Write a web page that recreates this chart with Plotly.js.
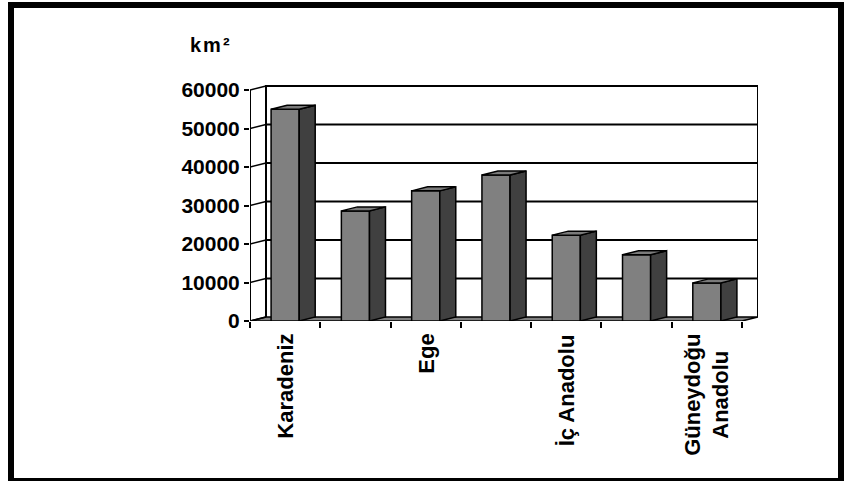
<!DOCTYPE html>
<html>
<head>
<meta charset="utf-8">
<script src="https://cdn.plot.ly/plotly-3.0.1.min.js"></script>
<style>
  html, body { margin: 0; padding: 0; background: #fff; }
  #wrap { position: relative; width: 846px; height: 481px; overflow: hidden; }
  #chart { position: absolute; left: 0; top: 0; width: 846px; height: 481px; }
  #frame { position: absolute; left: 8px; top: 2px; width: 824px; height: 470px;
           border: 6px solid #000; pointer-events: none; }
</style>
</head>
<body>
<div id="wrap">
  <div id="chart"></div>
  <div id="frame"></div>
</div>
<script>
// ---- data ----
const categories = ['Karadeniz', 'Marmara', 'Ege', 'Akdeniz', 'İç Anadolu', 'Doğu Anadolu', 'Güneydoğu Anadolu'];
const areaKm2 = [55000, 28600, 33800, 37900, 22300, 17200, 9900];
const xTickLabels = ['Karadeniz', '', 'Ege', '', 'İç Anadolu', '', 'Güneydoğu<br>Anadolu'];
const yTickValues = [0, 10000, 20000, 30000, 40000, 50000, 60000];
const yTickLabels = ['0', '10000', '20000', '30000', '40000', '50000', '60000'];
const unitLabel = 'km²';

// ---- geometry (styling) ----
const W = 846, H = 481;
const mL = 250, mT = 80, mB = 160;
const nCat = categories.length;
const catPx = 70.3;               // px per category
const yMaxTick = yTickValues[yTickValues.length - 1];
const pxPerY = 231 / yMaxTick;    // px per unit on y
const depthPx = 16, riseP = 4;    // 3-D depth offset in px
const dxU = depthPx / catPx;
const dyU = riseP / pxPerY;
const plotW = (nCat + dxU) * catPx;
const plotH = H - mT - mB;
const mR = W - mL - plotW;
const yTop = plotH / pxPerY;
const barW = 0.4;

const xs = categories.map((c, i) => i + 0.5);

// side and top faces of the bars
const sideX = [], sideY = [], topX = [], topY = [];
areaKm2.forEach((v, i) => {
  const xl = xs[i] - barW / 2, xr = xs[i] + barW / 2;
  sideX.push(xr, xr + dxU, xr + dxU, xr, xr, null);
  sideY.push(0, dyU, v + dyU, v, 0, null);
  topX.push(xl, xr, xr + dxU, xl + dxU, xl, null);
  topY.push(v, v, v + dyU, v + dyU, v, null);
});

const traces = [
  {
    type: 'bar', x: xs, y: areaKm2, width: barW,
    marker: { color: '#808080', line: { color: '#000', width: 1.5 } },
    hoverinfo: 'skip', showlegend: false
  },
  {
    type: 'scatter', mode: 'lines', x: sideX, y: sideY, fill: 'toself',
    fillcolor: '#404040', line: { color: '#000', width: 1.5 },
    hoverinfo: 'skip', showlegend: false
  },
  {
    type: 'scatter', mode: 'lines', x: topX, y: topY, fill: 'toself',
    fillcolor: '#7a7a7a', line: { color: '#000', width: 1.5 },
    hoverinfo: 'skip', showlegend: false
  }
];

// walls, floor and gridlines as shapes below the bars
const shapes = [];
const lineBlack = { color: '#000', width: 2 };
// floor
shapes.push({
  type: 'path', xref: 'x', yref: 'y', layer: 'below',
  path: `M 0 0 L ${nCat} 0 L ${nCat + dxU} ${dyU} L ${dxU} ${dyU} Z`,
  fillcolor: '#808080', line: { color: '#000', width: 1.5 }
});
// back wall outline (left, top, right)
shapes.push({
  type: 'path', xref: 'x', yref: 'y', layer: 'below',
  path: `M ${dxU} ${dyU} L ${dxU} ${yMaxTick + dyU} L ${nCat + dxU} ${yMaxTick + dyU} L ${nCat + dxU} ${dyU}`,
  line: lineBlack
});
// back wall gridlines and side-wall diagonals
yTickValues.forEach(v => {
  if (v > 0 && v < yMaxTick) {
    shapes.push({ type: 'line', xref: 'x', yref: 'y', layer: 'below',
      x0: dxU, x1: nCat + dxU, y0: v + dyU, y1: v + dyU, line: lineBlack });
  }
  shapes.push({ type: 'line', xref: 'x', yref: 'y', layer: 'below',
    x0: 0, x1: dxU, y0: v, y1: v + dyU, line: { color: '#000', width: 1.5 } });
});
// front value axis line
shapes.push({ type: 'line', xref: 'x', yref: 'y', layer: 'above',
  x0: 0, x1: 0, y0: 0, y1: yMaxTick, line: lineBlack });

const font = { family: 'Liberation Sans, Arial, sans-serif', color: '#000', weight: 'bold' };

const annotations = [];
xTickLabels.forEach((t, i) => {
  if (!t) return;
  annotations.push({
    xref: 'x', yref: 'y', x: xs[i], y: 0, yshift: -11,
    text: t, showarrow: false, textangle: -90,
    xanchor: 'center', yanchor: 'top', align: 'center',
    font: Object.assign({ size: 22 }, font)
  });
});
annotations.push({
  xref: 'paper', yref: 'paper',
  x: (188 - mL) / plotW, y: (H - mB - 45) / plotH,
  xanchor: 'left', yanchor: 'middle', showarrow: false,
  text: '<span style="letter-spacing:2px">' + unitLabel + '</span>',
  font: Object.assign({ size: 20 }, font)
});

const layout = {
  width: W, height: H,
  margin: { l: mL, r: mR, t: mT, b: mB, pad: 0 },
  paper_bgcolor: '#fff', plot_bgcolor: 'rgba(0,0,0,0)',
  showlegend: false,
  xaxis: {
    range: [0, nCat + dxU], showgrid: false, zeroline: false, showline: false,
    tickmode: 'array', tickvals: categories.map((c, i) => i).concat([nCat]),
    ticktext: categories.map(() => '').concat(['']),
    ticks: 'outside', ticklen: 6, tickwidth: 2, tickcolor: '#000',
    showticklabels: false, fixedrange: true
  },
  yaxis: {
    range: [0, yTop], showgrid: false, zeroline: false, showline: false,
    tickmode: 'array', tickvals: yTickValues, ticktext: yTickLabels,
    ticks: 'outside', ticklen: 5, tickwidth: 2, tickcolor: '#000',
    tickfont: Object.assign({ size: 21 }, font), fixedrange: true
  },
  shapes: shapes,
  annotations: annotations
};

Plotly.newPlot('chart', traces, layout, { staticPlot: true, displayModeBar: false });
</script>
</body>
</html>
